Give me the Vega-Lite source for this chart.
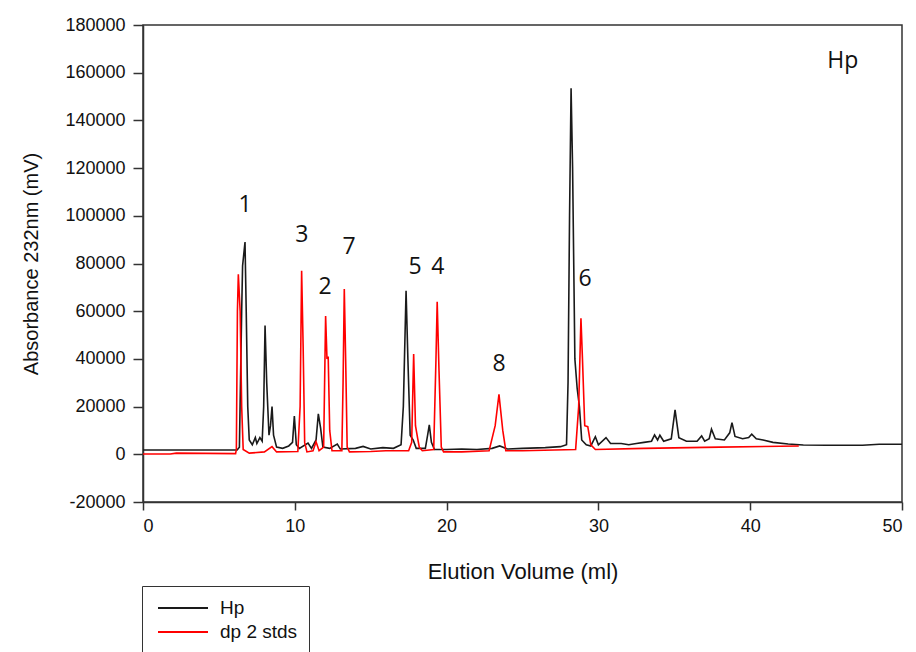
{
  "$schema": "https://vega.github.io/schema/vega-lite/v6.json",
  "width": 759,
  "height": 477,
  "autosize": {"type": "none"},
  "padding": {"left": 143, "top": 25, "right": 14, "bottom": 150},
  "background": "white",
  "config": {
    "view": {"stroke": "#333333", "strokeWidth": 1.5},
    "axis": {
      "grid": false,
      "domainColor": "#333333",
      "domainWidth": 1.5,
      "tickColor": "#333333",
      "tickWidth": 1.5,
      "labelFont": "Liberation Sans",
      "titleFont": "Liberation Sans",
      "labelColor": "#111111",
      "titleColor": "#111111",
      "titleFontWeight": "normal"
    }
  },
  "datasets": {
    "trace": [
      {"v": 0, "a": 1800, "s": "Hp"},
      {"v": 6.2, "a": 1800, "s": "Hp"},
      {"v": 6.35, "a": 3000, "s": "Hp"},
      {"v": 6.5, "a": 60000, "s": "Hp"},
      {"v": 6.56, "a": 79000, "s": "Hp"},
      {"v": 6.72, "a": 89000, "s": "Hp"},
      {"v": 6.8, "a": 60000, "s": "Hp"},
      {"v": 6.9, "a": 20000, "s": "Hp"},
      {"v": 7.0, "a": 6000, "s": "Hp"},
      {"v": 7.2, "a": 4000, "s": "Hp"},
      {"v": 7.4, "a": 7000, "s": "Hp"},
      {"v": 7.5, "a": 4500, "s": "Hp"},
      {"v": 7.7, "a": 7000, "s": "Hp"},
      {"v": 7.85, "a": 5500, "s": "Hp"},
      {"v": 7.95, "a": 20000, "s": "Hp"},
      {"v": 8.04, "a": 54000, "s": "Hp"},
      {"v": 8.15, "a": 30000, "s": "Hp"},
      {"v": 8.3, "a": 8000, "s": "Hp"},
      {"v": 8.4, "a": 12000, "s": "Hp"},
      {"v": 8.5, "a": 20000, "s": "Hp"},
      {"v": 8.6, "a": 8000, "s": "Hp"},
      {"v": 8.8, "a": 3000, "s": "Hp"},
      {"v": 9.2, "a": 2500, "s": "Hp"},
      {"v": 9.6, "a": 3500, "s": "Hp"},
      {"v": 9.85, "a": 5000, "s": "Hp"},
      {"v": 9.97, "a": 16000, "s": "Hp"},
      {"v": 10.1, "a": 4000, "s": "Hp"},
      {"v": 10.3, "a": 2500, "s": "Hp"},
      {"v": 10.87, "a": 4700, "s": "Hp"},
      {"v": 11.1, "a": 2500, "s": "Hp"},
      {"v": 11.4, "a": 6000, "s": "Hp"},
      {"v": 11.55, "a": 17000, "s": "Hp"},
      {"v": 11.7, "a": 11000, "s": "Hp"},
      {"v": 11.85, "a": 3000, "s": "Hp"},
      {"v": 12.3, "a": 2500, "s": "Hp"},
      {"v": 12.8, "a": 4300, "s": "Hp"},
      {"v": 13.0, "a": 2200, "s": "Hp"},
      {"v": 14.0, "a": 2500, "s": "Hp"},
      {"v": 14.5, "a": 3300, "s": "Hp"},
      {"v": 15.0, "a": 2200, "s": "Hp"},
      {"v": 15.8, "a": 2800, "s": "Hp"},
      {"v": 16.5, "a": 2500, "s": "Hp"},
      {"v": 17.0, "a": 4000, "s": "Hp"},
      {"v": 17.15, "a": 20000, "s": "Hp"},
      {"v": 17.33, "a": 68600, "s": "Hp"},
      {"v": 17.45, "a": 40000, "s": "Hp"},
      {"v": 17.6, "a": 8000, "s": "Hp"},
      {"v": 17.8, "a": 6000, "s": "Hp"},
      {"v": 18.0, "a": 2500, "s": "Hp"},
      {"v": 18.6, "a": 2500, "s": "Hp"},
      {"v": 18.75, "a": 8000, "s": "Hp"},
      {"v": 18.86, "a": 12300, "s": "Hp"},
      {"v": 19.0, "a": 5000, "s": "Hp"},
      {"v": 19.2, "a": 2000, "s": "Hp"},
      {"v": 20.0, "a": 2000, "s": "Hp"},
      {"v": 21.0, "a": 2200, "s": "Hp"},
      {"v": 22.0, "a": 2000, "s": "Hp"},
      {"v": 23.0, "a": 2500, "s": "Hp"},
      {"v": 23.5, "a": 3500, "s": "Hp"},
      {"v": 24.0, "a": 2200, "s": "Hp"},
      {"v": 25.0, "a": 2500, "s": "Hp"},
      {"v": 26.5, "a": 2800, "s": "Hp"},
      {"v": 27.5, "a": 3200, "s": "Hp"},
      {"v": 27.9, "a": 4000, "s": "Hp"},
      {"v": 28.0, "a": 30000, "s": "Hp"},
      {"v": 28.1, "a": 100000, "s": "Hp"},
      {"v": 28.2, "a": 153500, "s": "Hp"},
      {"v": 28.3, "a": 120000, "s": "Hp"},
      {"v": 28.45, "a": 40000, "s": "Hp"},
      {"v": 28.6, "a": 27700, "s": "Hp"},
      {"v": 28.75, "a": 20000, "s": "Hp"},
      {"v": 28.9, "a": 6000, "s": "Hp"},
      {"v": 29.2, "a": 4000, "s": "Hp"},
      {"v": 29.5, "a": 3500, "s": "Hp"},
      {"v": 29.8, "a": 7400, "s": "Hp"},
      {"v": 30.0, "a": 4000, "s": "Hp"},
      {"v": 30.5, "a": 7000, "s": "Hp"},
      {"v": 30.8, "a": 4500, "s": "Hp"},
      {"v": 31.5, "a": 4500, "s": "Hp"},
      {"v": 32.0, "a": 4000, "s": "Hp"},
      {"v": 32.5, "a": 4500, "s": "Hp"},
      {"v": 33.0, "a": 5000, "s": "Hp"},
      {"v": 33.5, "a": 5500, "s": "Hp"},
      {"v": 33.7, "a": 8100, "s": "Hp"},
      {"v": 33.9, "a": 6000, "s": "Hp"},
      {"v": 34.05, "a": 8000, "s": "Hp"},
      {"v": 34.3, "a": 5500, "s": "Hp"},
      {"v": 34.8, "a": 6500, "s": "Hp"},
      {"v": 35.05, "a": 18600, "s": "Hp"},
      {"v": 35.3, "a": 7000, "s": "Hp"},
      {"v": 35.8, "a": 5500, "s": "Hp"},
      {"v": 36.5, "a": 5500, "s": "Hp"},
      {"v": 36.8, "a": 7700, "s": "Hp"},
      {"v": 37.0, "a": 5500, "s": "Hp"},
      {"v": 37.3, "a": 6500, "s": "Hp"},
      {"v": 37.45, "a": 10500, "s": "Hp"},
      {"v": 37.7, "a": 6500, "s": "Hp"},
      {"v": 38.3, "a": 6000, "s": "Hp"},
      {"v": 38.65, "a": 9000, "s": "Hp"},
      {"v": 38.8, "a": 13300, "s": "Hp"},
      {"v": 39.0, "a": 7500, "s": "Hp"},
      {"v": 39.5, "a": 6500, "s": "Hp"},
      {"v": 39.9, "a": 7000, "s": "Hp"},
      {"v": 40.1, "a": 8400, "s": "Hp"},
      {"v": 40.4, "a": 6500, "s": "Hp"},
      {"v": 40.85, "a": 6000, "s": "Hp"},
      {"v": 41.5, "a": 5000, "s": "Hp"},
      {"v": 42.5, "a": 4300, "s": "Hp"},
      {"v": 43.5, "a": 3900, "s": "Hp"},
      {"v": 45.0, "a": 3800, "s": "Hp"},
      {"v": 47.4, "a": 3800, "s": "Hp"},
      {"v": 48.5, "a": 4200, "s": "Hp"},
      {"v": 50.0, "a": 4200, "s": "Hp"},

      {"v": 0, "a": 100, "s": "dp 2 stds"},
      {"v": 1.8, "a": 100, "s": "dp 2 stds"},
      {"v": 2.2, "a": 500, "s": "dp 2 stds"},
      {"v": 6.1, "a": 300, "s": "dp 2 stds"},
      {"v": 6.15, "a": 2000, "s": "dp 2 stds"},
      {"v": 6.22, "a": 60000, "s": "dp 2 stds"},
      {"v": 6.28, "a": 75500, "s": "dp 2 stds"},
      {"v": 6.4, "a": 60000, "s": "dp 2 stds"},
      {"v": 6.5, "a": 20000, "s": "dp 2 stds"},
      {"v": 6.6, "a": 2000, "s": "dp 2 stds"},
      {"v": 7.0, "a": 500, "s": "dp 2 stds"},
      {"v": 8.0, "a": 1000, "s": "dp 2 stds"},
      {"v": 8.5, "a": 3200, "s": "dp 2 stds"},
      {"v": 8.8, "a": 1000, "s": "dp 2 stds"},
      {"v": 10.2, "a": 1200, "s": "dp 2 stds"},
      {"v": 10.35, "a": 20000, "s": "dp 2 stds"},
      {"v": 10.45, "a": 77000, "s": "dp 2 stds"},
      {"v": 10.55, "a": 45000, "s": "dp 2 stds"},
      {"v": 10.65, "a": 5000, "s": "dp 2 stds"},
      {"v": 10.8, "a": 1000, "s": "dp 2 stds"},
      {"v": 11.2, "a": 1500, "s": "dp 2 stds"},
      {"v": 11.4, "a": 5300, "s": "dp 2 stds"},
      {"v": 11.6, "a": 1500, "s": "dp 2 stds"},
      {"v": 11.9, "a": 3000, "s": "dp 2 stds"},
      {"v": 12.03, "a": 58000, "s": "dp 2 stds"},
      {"v": 12.12, "a": 40000, "s": "dp 2 stds"},
      {"v": 12.2, "a": 41000, "s": "dp 2 stds"},
      {"v": 12.3, "a": 10000, "s": "dp 2 stds"},
      {"v": 12.45, "a": 1500, "s": "dp 2 stds"},
      {"v": 13.1, "a": 1500, "s": "dp 2 stds"},
      {"v": 13.18, "a": 30000, "s": "dp 2 stds"},
      {"v": 13.26, "a": 69300, "s": "dp 2 stds"},
      {"v": 13.35, "a": 40000, "s": "dp 2 stds"},
      {"v": 13.45, "a": 3000, "s": "dp 2 stds"},
      {"v": 13.6, "a": 1000, "s": "dp 2 stds"},
      {"v": 15.0, "a": 1200, "s": "dp 2 stds"},
      {"v": 16.0, "a": 1500, "s": "dp 2 stds"},
      {"v": 17.5, "a": 1500, "s": "dp 2 stds"},
      {"v": 17.7, "a": 5000, "s": "dp 2 stds"},
      {"v": 17.83, "a": 42000, "s": "dp 2 stds"},
      {"v": 17.95, "a": 12000, "s": "dp 2 stds"},
      {"v": 18.1, "a": 6500, "s": "dp 2 stds"},
      {"v": 18.2, "a": 3000, "s": "dp 2 stds"},
      {"v": 18.4, "a": 1500, "s": "dp 2 stds"},
      {"v": 19.15, "a": 2000, "s": "dp 2 stds"},
      {"v": 19.3, "a": 40000, "s": "dp 2 stds"},
      {"v": 19.38, "a": 64000, "s": "dp 2 stds"},
      {"v": 19.5, "a": 35000, "s": "dp 2 stds"},
      {"v": 19.65, "a": 3000, "s": "dp 2 stds"},
      {"v": 19.8, "a": 1000, "s": "dp 2 stds"},
      {"v": 21.0, "a": 1000, "s": "dp 2 stds"},
      {"v": 22.8, "a": 1500, "s": "dp 2 stds"},
      {"v": 23.2, "a": 12000, "s": "dp 2 stds"},
      {"v": 23.45, "a": 25100, "s": "dp 2 stds"},
      {"v": 23.7, "a": 10000, "s": "dp 2 stds"},
      {"v": 23.9, "a": 1500, "s": "dp 2 stds"},
      {"v": 25.0, "a": 1500, "s": "dp 2 stds"},
      {"v": 28.5, "a": 2000, "s": "dp 2 stds"},
      {"v": 28.7, "a": 20000, "s": "dp 2 stds"},
      {"v": 28.85, "a": 57000, "s": "dp 2 stds"},
      {"v": 28.95, "a": 40000, "s": "dp 2 stds"},
      {"v": 29.1, "a": 12000, "s": "dp 2 stds"},
      {"v": 29.3, "a": 11600, "s": "dp 2 stds"},
      {"v": 29.5, "a": 4000, "s": "dp 2 stds"},
      {"v": 29.8, "a": 2000, "s": "dp 2 stds"},
      {"v": 33.0, "a": 2500, "s": "dp 2 stds"},
      {"v": 38.0, "a": 3000, "s": "dp 2 stds"},
      {"v": 43.2, "a": 3500, "s": "dp 2 stds"}
    ],
    "labels": [
      {"v": 6.72, "a": 104500, "t": "1"},
      {"v": 10.47, "a": 91900, "t": "3"},
      {"v": 13.57, "a": 86900, "t": "7"},
      {"v": 11.99, "a": 70100, "t": "2"},
      {"v": 17.92, "a": 78500, "t": "5"},
      {"v": 19.43, "a": 78500, "t": "4"},
      {"v": 23.45, "a": 37900, "t": "8"},
      {"v": 29.12, "a": 73500, "t": "6"},
      {"v": 46.1, "a": 164900, "t": "Hp"}
    ]
  },
  "layer": [
    {
      "data": {"name": "trace"},
      "mark": {"type": "line", "strokeWidth": 1.6, "interpolate": "linear"},
      "encoding": {
        "x": {
          "field": "v", "type": "quantitative",
          "scale": {"domain": [0, 50], "nice": false, "zero": false},
          "axis": {
            "title": "Elution Volume (ml)",
            "values": [0, 10, 20, 30, 40, 50],
            "labelFontSize": 18,
            "titleFontSize": 22,
            "tickSize": 8,
            "labelPadding": 7,
            "titlePadding": 26
          }
        },
        "y": {
          "field": "a", "type": "quantitative",
          "scale": {"domain": [-20000, 180000], "nice": false, "zero": false},
          "axis": {
            "title": "Absorbance 232nm (mV)",
            "values": [-20000, 0, 20000, 40000, 60000, 80000, 100000, 120000, 140000, 160000, 180000],
            "labelExpr": "'' + datum.value",
            "labelFontSize": 18,
            "titleFontSize": 20,
            "tickSize": 10,
            "labelPadding": 8,
            "titlePadding": 23
          }
        },
        "color": {
          "field": "s", "type": "nominal",
          "scale": {"domain": ["Hp", "dp 2 stds"], "range": ["#1a1a1a", "#ff0000"]},
          "legend": {
            "title": null,
            "orient": "none",
            "legendX": -1,
            "legendY": 561,
            "direction": "vertical",
            "symbolType": "M-2.5,0H2.5",
            "symbolSize": 400,
            "symbolOffset": 19,
            "symbolStrokeWidth": 1.8,
            "labelFont": "Liberation Sans",
            "labelFontSize": 19,
            "labelColor": "#111111",
            "labelOffset": 26,
            "rowPadding": 3,
            "padding": 11,
            "strokeColor": "#333333",
            "fillColor": "white",
            "labelExpr": "datum.label + '\u00a0\u00a0'"
          }
        }
      }
    },
    {
      "data": {"name": "labels"},
      "mark": {"type": "text", "font": "Open Sans", "fontSize": 23, "color": "#111111", "align": "center", "baseline": "middle"},
      "encoding": {
        "x": {"field": "v", "type": "quantitative"},
        "y": {"field": "a", "type": "quantitative"},
        "text": {"field": "t"}
      }
    }
  ]
}
